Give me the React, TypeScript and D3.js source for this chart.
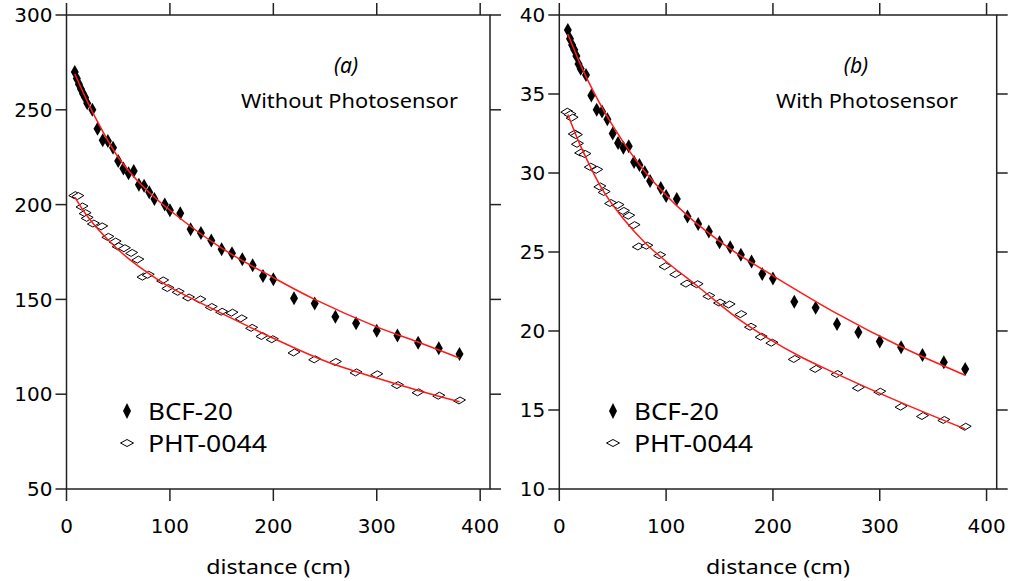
import React from 'react';
import * as d3 from 'd3';

// ---------- tick labels ----------
const xTicks = [0, 100, 200, 300, 400];
const leftYTicks = [50, 100, 150, 200, 250, 300];
const rightYTicks = [10, 15, 20, 25, 30, 35, 40];

// ---------- panel (a): Without Photosensor ----------
const aBcfX = [8, 10, 12, 14, 16, 18, 20, 25, 30, 35, 40, 45, 50, 55, 60, 65, 70, 75, 80, 85, 95, 100, 110, 120, 130, 140, 150, 160, 170, 180, 190, 200, 220, 240, 260, 280, 300, 320, 340, 360, 380];
const aBcfY = [270, 266.5, 263.5, 261, 258.5, 256.5, 253.5, 250, 240, 234, 233.5, 230, 223, 219, 216.5, 217.7, 210.5, 210, 206.5, 203, 200, 197, 195.5, 187, 185, 181, 176.5, 174.3, 171.2, 168, 162.3, 160.6, 150.6, 147.8, 140.9, 137.4, 133.5, 130.9, 127.2, 124.2, 121.2];
const aPhtX = [8, 11, 15, 18, 20, 26, 34, 40, 47, 50, 56, 63, 69, 74, 79, 93, 98, 108, 118, 129, 140, 150, 160, 169, 179, 189, 199, 220, 240, 260, 280, 300, 320, 340, 360, 380];
const aPhtY = [205, 204.5, 199, 195.5, 193, 190, 188.5, 183, 180.5, 178, 177, 174.5, 171, 162, 163, 160, 156, 154, 151, 150, 146, 143.5, 143, 140, 135, 130.7, 129, 122, 118.4, 117, 111.5, 110.5, 104.8, 101, 99.2, 96.7];
const aBcfFitX = [8, 25, 50, 75, 100, 150, 200, 240, 300, 340, 380];
const aBcfFitY = [269, 249, 225, 209, 197, 177, 161.5, 150, 135.5, 127.5, 119];
const aPhtFitX = [8, 20, 40, 60, 80, 100, 130, 160, 200, 250, 300, 340, 380];
const aPhtFitY = [204, 194, 181.5, 171.5, 163.5, 156.5, 148, 140, 129.5, 117.5, 108.5, 102, 96];

// ---------- panel (b): With Photosensor ----------
const bBcfX = [8, 10, 12, 14, 16, 18, 20, 25, 30, 35, 40, 45, 50, 55, 60, 65, 70, 75, 80, 85, 95, 100, 110, 120, 130, 140, 150, 160, 170, 180, 190, 200, 220, 240, 260, 280, 300, 320, 340, 360, 380];
const bBcfY = [39.05, 38.5, 38.1, 37.8, 37.4, 36.9, 36.6, 36.2, 34.9, 34.0, 33.9, 33.4, 32.5, 31.9, 31.6, 31.7, 30.7, 30.5, 30.05, 29.5, 29.05, 28.55, 28.35, 27.25, 26.77, 26.29, 25.62, 25.3, 24.83, 24.4, 23.6, 23.32, 21.85, 21.47, 20.44, 19.92, 19.33, 18.97, 18.48, 18.02, 17.6];
const bPhtX = [7, 10, 12, 14, 16, 17, 20, 24, 29, 35, 38, 42, 48, 55, 60, 65, 70, 74, 82, 94, 99, 109, 119, 129, 140, 150, 159, 170, 179, 189, 199, 220, 240, 260, 280, 300, 320, 340, 360, 380];
const bPhtY = [33.88, 33.72, 33.5, 32.5, 32.4, 31.85, 31.3, 31.2, 30.4, 30.2, 29.15, 28.8, 28.1, 27.97, 27.6, 27.3, 26.7, 25.35, 25.4, 24.8, 24.1, 23.6, 23.0, 22.96, 22.22, 21.8, 21.68, 21.07, 20.27, 19.64, 19.26, 18.23, 17.6, 17.28, 16.41, 16.16, 15.21, 14.62, 14.37, 13.94];
const bBcfFitX = [8, 25, 50, 80, 120, 160, 200, 260, 320, 380];
const bBcfFitY = [38.8, 36.1, 33.0, 30.1, 27.3, 25.2, 23.5, 21.1, 19.0, 17.2];
const bPhtFitX = [8, 20, 40, 60, 80, 100, 130, 165, 194, 225, 256, 319, 380];
const bPhtFitY = [33.7, 31.7, 29.0, 27.1, 25.6, 24.4, 22.8, 20.9, 19.6, 18.4, 17.4, 15.5, 13.8];

const zip = (xs: number[], ys: number[]) => xs.map((x, i) => [x, ys[i]] as [number, number]);

const AXIS = '#222';
const TICK_FONT = '"DejaVu Sans", sans-serif';
const TEXT_FONT = '"Comic Sans MS", "Noto Sans", "DejaVu Sans", sans-serif';

const filledDiamond = 'M0,-7L4,0L0,7L-4,0Z';
const openDiamond = 'M-6,0.5L0.5,-3.5L6,-0.5L-0.5,3.5Z';

type PanelProps = {
  x0: number; x1: number; y0: number; y1: number;
  yDomain: [number, number]; yTicks: number[];
  bcf: [number, number][]; pht: [number, number][];
  bcfFit: [number, number][]; phtFit: [number, number][];
  tag: string; tagX: number; title: string; titleX: number; titleW: number;
  legX: number;
};

function Panel(p: PanelProps) {
  const x = d3.scaleLinear().domain([0, 409.5]).range([p.x0, p.x1]);
  const y = d3.scaleLinear().domain(p.yDomain).range([p.y1, p.y0]);
  const line = d3.line<[number, number]>().x(d => x(d[0])).y(d => y(d[1])).curve(d3.curveCatmullRom.alpha(0.5));
  const T = 11;
  const cx = (p.x0 + p.x1) / 2;
  return (
    <g>
      {/* frame */}
      <rect x={p.x0} y={p.y0} width={p.x1 - p.x0} height={p.y1 - p.y0} fill="none" stroke={AXIS} strokeWidth={1.5} />
      {xTicks.map(t => (
        <g key={'x' + t}>
          <line x1={x(t)} x2={x(t)} y1={p.y1} y2={p.y1 + T + 1} stroke={AXIS} strokeWidth={1.5} />
          <line x1={x(t)} x2={x(t)} y1={p.y0} y2={p.y0 - T - 1} stroke={AXIS} strokeWidth={1.5} />
          <text x={x(t)} y={533} textAnchor="middle" fontFamily={TICK_FONT} fontSize={20} fill="#000">{t}</text>
        </g>
      ))}
      {p.yTicks.map(t => (
        <g key={'y' + t}>
          <line x1={p.x0 - T} x2={p.x0} y1={y(t)} y2={y(t)} stroke={AXIS} strokeWidth={1.5} />
          <line x1={p.x1} x2={p.x1 + T} y1={y(t)} y2={y(t)} stroke={AXIS} strokeWidth={1.5} />
          <text x={p.x0 - T - 3} y={y(t)} dy="0.36em" textAnchor="end" fontFamily={TICK_FONT} fontSize={20} fill="#000">{t}</text>
        </g>
      ))}
      {/* markers */}
      {p.pht.map((d, i) => (
        <path key={'p' + i} d={openDiamond} transform={`translate(${x(d[0])},${y(d[1])})`} fill="#fff" stroke="#000" strokeWidth={1} />
      ))}
      {p.bcf.map((d, i) => (
        <path key={'b' + i} d={filledDiamond} transform={`translate(${x(d[0])},${y(d[1])})`} fill="#000" />
      ))}
      {/* fits */}
      <path d={line(p.bcfFit) || ''} fill="none" stroke="#ff1a1a" strokeWidth={1.5} />
      <path d={line(p.phtFit) || ''} fill="none" stroke="#ff1a1a" strokeWidth={1.5} />
      {/* annotations */}
      <text x={p.tagX} y={73} textAnchor="middle" fontFamily={TEXT_FONT} fontStyle="italic" fontSize={21} fill="#000">{p.tag}</text>
      <text x={p.titleX} y={108} fontFamily={TEXT_FONT} fontSize={20} fill="#000" textLength={p.titleW} lengthAdjust="spacingAndGlyphs">{p.title}</text>
      {/* legend */}
      <path d="M0,-8L4,0L0,8L-4,0Z" transform={`translate(${p.legX},411)`} fill="#000" />
      <path d="M-6.5,0L0,-3.5L6.5,0L0,3.5Z" transform={`translate(${p.legX},443)`} fill="#fff" stroke="#000" strokeWidth={1} />
      <text x={p.legX + 21} y={420} fontFamily={TEXT_FONT} fontSize={23} fill="#000" textLength={85} lengthAdjust="spacingAndGlyphs">BCF-20</text>
      <text x={p.legX + 21} y={452} fontFamily={TEXT_FONT} fontSize={23} fill="#000" textLength={119} lengthAdjust="spacingAndGlyphs">PHT-0044</text>
      {/* x label */}
      <text x={cx} y={574} textAnchor="middle" fontFamily={TEXT_FONT} fontSize={20} fill="#000" textLength={144} lengthAdjust="spacingAndGlyphs">distance  (cm)</text>
    </g>
  );
}

export default function App() {
  return (
    <div style={{ position: 'absolute', left: 0, top: 0 }}>
      <svg width={1010} height={581} style={{ display: 'block', background: '#fff' }}>
        <rect width={1010} height={581} fill="#fff" />
        <Panel x0={66.5} x1={490} y0={15} y1={489} yDomain={[50, 300]} yTicks={leftYTicks}
          bcf={zip(aBcfX, aBcfY)} pht={zip(aPhtX, aPhtY)}
          bcfFit={zip(aBcfFitX, aBcfFitY)} phtFit={zip(aPhtFitX, aPhtFitY)}
          tag="(a)" tagX={346} title="Without Photosensor" titleX={241} titleW={217} legX={127} />
        <Panel x0={559.3} x1={996.7} y0={15} y1={489} yDomain={[10, 40]} yTicks={rightYTicks}
          bcf={zip(bBcfX, bBcfY)} pht={zip(bPhtX, bPhtY)}
          bcfFit={zip(bBcfFitX, bBcfFitY)} phtFit={zip(bPhtFitX, bPhtFitY)}
          tag="(b)" tagX={856} title="With Photosensor" titleX={776} titleW={182} legX={613} />
      </svg>
    </div>
  );
}
